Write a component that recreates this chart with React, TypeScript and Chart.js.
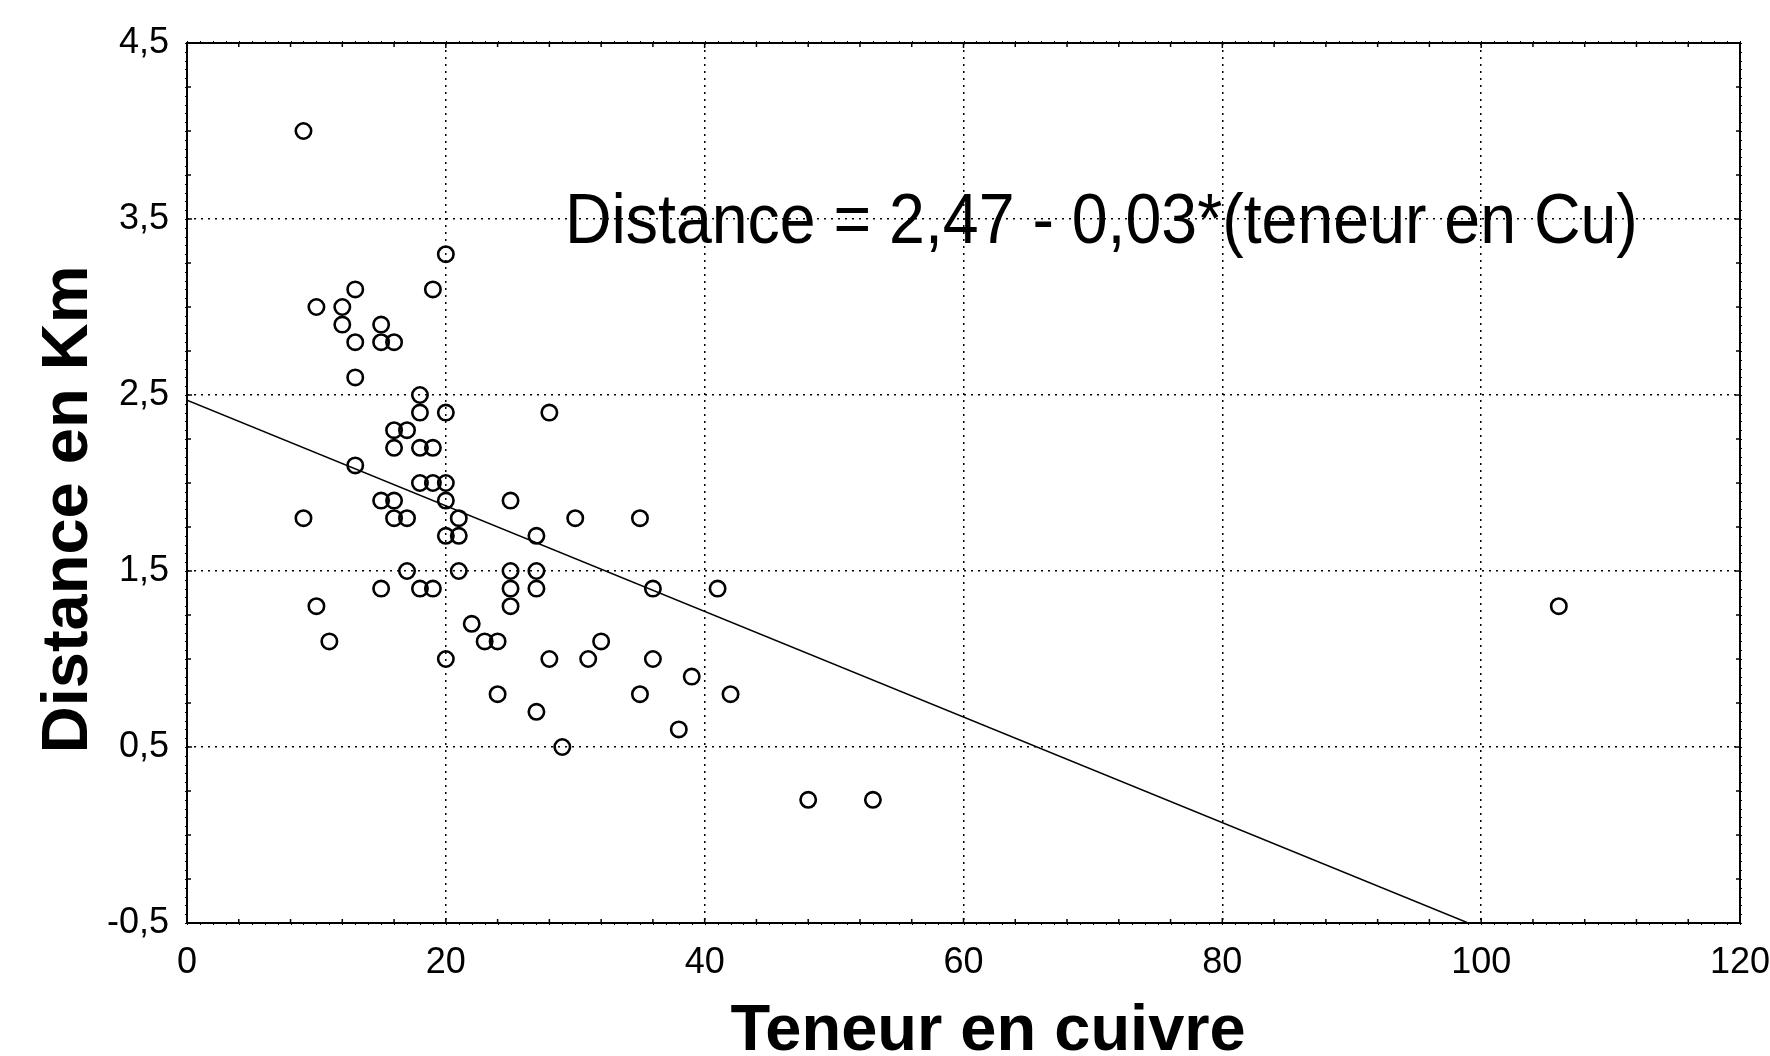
import React, { useEffect, useRef } from "react";
import { Chart, registerables } from "chart.js";

Chart.register(...registerables);

// Teneur en cuivre (x) and Distance en Km (y) for each sample
const cuContent = [
  9, 20, 13, 19, 10, 12, 12, 15, 13, 15, 16, 13, 18, 18, 20, 28, 16, 17, 16, 18,
  19, 13, 18, 19, 20, 15, 16, 20, 25, 9, 16, 17, 21, 30, 35, 20, 21, 27, 17, 21,
  25, 27, 15, 18, 19, 25, 27, 36, 41, 10, 25, 106, 22, 11, 23, 24, 32, 20, 28, 31,
  36, 39, 24, 35, 42, 27, 38, 29, 48, 53,
];
const distanceKm = [
  4.0, 3.3, 3.1, 3.1, 3.0, 3.0, 2.9, 2.9, 2.8, 2.8, 2.8, 2.6, 2.5, 2.4, 2.4, 2.4, 2.3, 2.3, 2.2, 2.2,
  2.2, 2.1, 2.0, 2.0, 2.0, 1.9, 1.9, 1.9, 1.9, 1.8, 1.8, 1.8, 1.8, 1.8, 1.8, 1.7, 1.7, 1.7, 1.5, 1.5,
  1.5, 1.5, 1.4, 1.4, 1.4, 1.4, 1.4, 1.4, 1.4, 1.3, 1.3, 1.3, 1.2, 1.1, 1.1, 1.1, 1.1, 1.0, 1.0, 1.0,
  1.0, 0.9, 0.8, 0.8, 0.8, 0.7, 0.6, 0.5, 0.2, 0.2,
];

// Regression line end points: Distance = 2,47 - 0,03*(teneur en Cu)
const fitX = [0, 99];
const fitY = [2.47, -0.5];

const xTicks = [0, 20, 40, 60, 80, 100, 120];
const yTicks = [-0.5, 0.5, 1.5, 2.5, 3.5, 4.5];

const equationText = "Distance = 2,47 - 0,03*(teneur en Cu)";
const xTitle = "Teneur en cuivre";
const yTitle = "Distance en Km";

const FONT = '"Liberation Sans", Arial, Helvetica, sans-serif';

const framePlugin = {
  id: "frameTicks",
  afterDraw(chart: any) {
    const { ctx, chartArea } = chart;
    const xs = chart.scales.x;
    const ys = chart.scales.y;
    const { left, right, top, bottom } = chartArea;
    ctx.save();
    ctx.strokeStyle = "#000";
    // tiny outer ticks
    ctx.lineWidth = 1;
    ctx.beginPath();
    for (let v = 0; v <= 120; v += 1) {
      const px = Math.round(xs.getPixelForValue(v)) + 0.5;
      ctx.moveTo(px, bottom); ctx.lineTo(px, bottom + 2);
      ctx.moveTo(px, top); ctx.lineTo(px, top - 2);
    }
    for (let i = 0; i <= 100; i++) {
      const v = -0.5 + i * 0.05;
      const py = Math.round(ys.getPixelForValue(v)) + 0.5;
      ctx.moveTo(left, py); ctx.lineTo(left - 2, py);
      ctx.moveTo(right, py); ctx.lineTo(right + 2, py);
    }
    ctx.stroke();
    // inward ticks
    ctx.lineWidth = 1.5;
    ctx.beginPath();
    for (let v = 0; v <= 120; v += 4) {
      const px = xs.getPixelForValue(v);
      const len = v % 20 === 0 ? 5 : 4;
      ctx.moveTo(px, bottom); ctx.lineTo(px, bottom - len);
      ctx.moveTo(px, top); ctx.lineTo(px, top + len);
    }
    for (let i = 0; i <= 20; i++) {
      const v = -0.5 + i * 0.25;
      const py = ys.getPixelForValue(v);
      const len = i % 4 === 0 ? 5 : 4;
      ctx.moveTo(left, py); ctx.lineTo(left + len, py);
      ctx.moveTo(right, py); ctx.lineTo(right - len, py);
    }
    ctx.stroke();
    // frame
    ctx.lineWidth = 2;
    ctx.strokeRect(left, top, right - left, bottom - top);

    ctx.fillStyle = "#000";

    // axis titles
    ctx.font = `bold 65px ${FONT}`;
    ctx.textAlign = "center";
    ctx.textBaseline = "alphabetic";
    ctx.fillText(xTitle, xs.getPixelForValue(61.9), 1050);
    ctx.save();
    ctx.translate(87, ys.getPixelForValue(1.85));
    ctx.rotate(-Math.PI / 2);
    ctx.fillText(yTitle, 0, 0);
    ctx.restore();

    // equation annotation
    ctx.font = `70px ${FONT}`;
    ctx.textAlign = "left";
    const x0 = xs.getPixelForValue(29.2);
    const x1 = xs.getPixelForValue(112.1);
    const baseY = ys.getPixelForValue(3.364);
    const w = ctx.measureText(equationText).width;
    const sx = (x1 - x0) / w;
    ctx.translate(x0, baseY);
    ctx.scale(sx, 1);
    ctx.fillText(equationText, 0, 0);
    ctx.restore();
  },
};

export default function App() {
  const ref = useRef<HTMLCanvasElement | null>(null);
  useEffect(() => {
    if (!ref.current) return;
    const points = cuContent.map((x, i) => ({ x, y: distanceKm[i] }));
    const fit = fitX.map((x, i) => ({ x, y: fitY[i] }));
    const chart = new Chart(ref.current, {
      type: "scatter",
      data: {
        datasets: [
          {
            label: "Observations",
            data: points,
            pointRadius: 7.7,
            pointHoverRadius: 7.7,
            pointBorderWidth: 2.6,
            pointBackgroundColor: "rgba(0,0,0,0)",
            pointBorderColor: "#000",
            showLine: false,
          },
          {
            label: "Régression",
            data: fit,
            showLine: true,
            borderColor: "#000",
            borderWidth: 1.5,
            pointRadius: 0,
            fill: false,
          },
        ],
      },
      options: {
        responsive: false,
        animation: false,
        devicePixelRatio: 1,
        layout: { padding: { top: 43, right: 30, left: 0, bottom: 0 } },
        plugins: {
          legend: { display: false },
          tooltip: { enabled: false },
          title: { display: false },
        },
        scales: {
          x: {
            type: "linear",
            min: 0,
            max: 120,
            afterBuildTicks: (s: any) => {
              s.ticks = xTicks.map((v) => ({ value: v }));
            },
            afterFit: (s: any) => {
              s.height = 133;
              s.paddingLeft = 0;
              s.paddingRight = 0;
            },
            border: { display: false, dash: [2, 5] },
            grid: {
              color: "#000",
              lineWidth: 1.5,
              drawTicks: false,
            },
            ticks: {
              color: "#000",
              padding: 18,
              maxRotation: 0,
              font: { family: FONT, size: 36 },
              callback: (v: any) => String(v),
            },
            title: { display: false, text: xTitle },
          },
          y: {
            type: "linear",
            min: -0.5,
            max: 4.5,
            afterBuildTicks: (s: any) => {
              s.ticks = yTicks.map((v) => ({ value: v }));
            },
            afterFit: (s: any) => {
              s.width = 187;
              s.paddingTop = 0;
              s.paddingBottom = 0;
            },
            border: { display: false, dash: [2, 5] },
            grid: {
              color: "#000",
              lineWidth: 1.5,
              drawTicks: false,
            },
            ticks: {
              color: "#000",
              padding: 18,
              font: { family: FONT, size: 36 },
              callback: (v: any) => Number(v).toFixed(1).replace(".", ","),
            },
            title: { display: false, text: yTitle },
          },
        },
      },
      plugins: [framePlugin],
    } as any);
    return () => chart.destroy();
  }, []);
  return (
    <div style={{ position: "absolute", left: 0, top: 0, width: 1770, height: 1056, background: "#fff" }}>
      <canvas ref={ref} width={1770} height={1056} style={{ display: "block", width: 1770, height: 1056 }} />
    </div>
  );
}
